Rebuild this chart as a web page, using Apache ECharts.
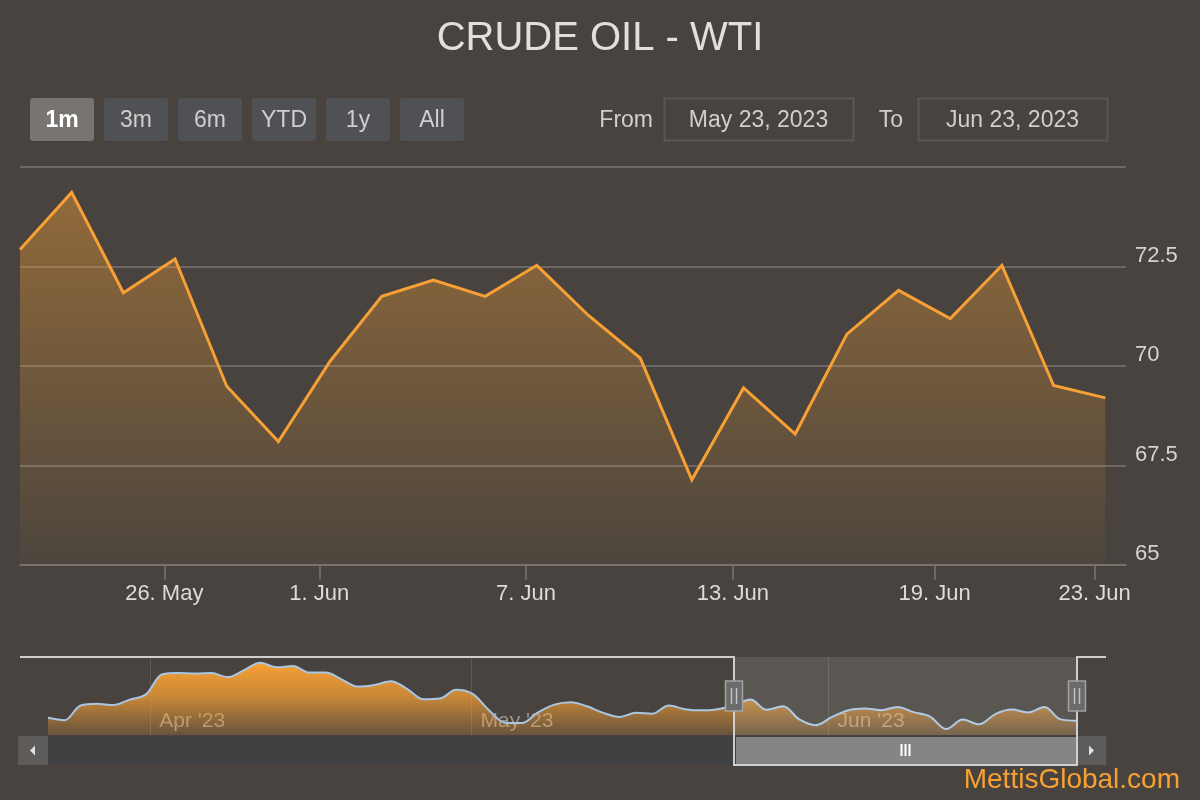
<!DOCTYPE html>
<html><head><meta charset="utf-8">
<script src="https://cdn.jsdelivr.net/npm/echarts@6/dist/echarts.min.js"></script>
<style>html,body{margin:0;padding:0;background:#48433e;} #c{width:1200px;height:800px;}</style>
</head><body><div id="c"></div>
<script>
// ---------- DATA ----------
const allDates = [
 '2023-03-23','2023-03-24','2023-03-27','2023-03-28','2023-03-29','2023-03-30','2023-03-31',
 '2023-04-03','2023-04-04','2023-04-05','2023-04-06','2023-04-10','2023-04-11','2023-04-12','2023-04-13','2023-04-14',
 '2023-04-17','2023-04-18','2023-04-19','2023-04-20','2023-04-21','2023-04-24','2023-04-25','2023-04-26','2023-04-27','2023-04-28',
 '2023-05-01','2023-05-02','2023-05-03','2023-05-04','2023-05-05','2023-05-08','2023-05-09','2023-05-10','2023-05-11','2023-05-12',
 '2023-05-15','2023-05-16','2023-05-17','2023-05-18','2023-05-19','2023-05-22',
 '2023-05-23','2023-05-24','2023-05-25','2023-05-26','2023-05-30','2023-05-31',
 '2023-06-01','2023-06-02','2023-06-05','2023-06-06','2023-06-07','2023-06-08','2023-06-09',
 '2023-06-12','2023-06-13','2023-06-14','2023-06-15','2023-06-16','2023-06-20','2023-06-21','2023-06-22','2023-06-23'
];
const allPrices = [
 69.9, 69.3, 72.9, 73.3, 73.0, 74.3, 75.6,
 80.5, 80.8, 80.7, 80.8, 79.8, 81.5, 83.3, 82.2, 82.5,
 80.9, 80.9, 79.2, 77.5, 77.9, 78.8, 76.9, 74.4, 74.6, 76.7,
 75.7, 71.7, 68.7, 68.6, 71.2, 73.1, 73.7, 72.7, 71.1, 70.1,
 71.1, 70.9, 72.9, 72.0, 71.7, 72.0,
 72.93, 74.36, 71.84, 72.69, 69.49, 68.10,
 70.12, 71.75, 72.16, 71.75, 72.53, 71.27, 70.20,
 67.14, 69.45, 68.29, 70.80, 71.90, 71.19, 72.53, 69.51, 69.20
];
const windowSize = 22; // "1m" view
const rangeButtons = ['1m','3m','6m','YTD','1y','All'];
const selectedButton = '1m';
const mainTickDates = ['2023-05-26','2023-06-01','2023-06-07','2023-06-13','2023-06-19','2023-06-23'];
const mainTickLabels = ['26. May','1. Jun','7. Jun','13. Jun','19. Jun','23. Jun'];
const navTickDates = ['2023-04-01','2023-05-01','2023-06-01'];
const navTickLabels = ["Apr '23","May '23","Jun '23"];
const yTicks = [65, 67.5, 70, 72.5, 75];
const tzOffsetHours = 5;

// ---------- helpers ----------
const FONT = "'Liberation Sans', Arial, Helvetica, sans-serif";
const MONTHS = ['Jan','Feb','Mar','Apr','May','Jun','Jul','Aug','Sep','Oct','Nov','Dec'];
function utc(s){const [y,m,d]=s.split('-').map(Number);return Date.UTC(y,m-1,d);}
function fmtDate(s){const [y,m,d]=s.split('-').map(Number);return MONTHS[m-1]+' '+d+', '+y;}
function ordinalPos(tickStr, dates){
  const t = utc(tickStr) - tzOffsetHours*3600e3;
  const ts = dates.map(utc);
  for (let i=0;i<ts.length-1;i++){ if (t>=ts[i] && t<ts[i+1]) return i + (t-ts[i])/(ts[i+1]-ts[i]); }
  return ts.length-1;
}
function labelFor(positions, labels){
  return function(v){ for (let i=0;i<positions.length;i++){ if (Math.abs(positions[i]-v)<1e-6) return labels[i]; } return ''; };
}

const startIdx = allDates.length - windowSize;
const mainDates = allDates.slice(startIdx);
const mainPrices = allPrices.slice(startIdx);
const mainTickPos = mainTickDates.map(d=>ordinalPos(d, mainDates));
const navTickPos = navTickDates.map(d=>ordinalPos(d, allDates));

// layout
const NAV_TOP = 657, NAV_H = 78, NAV_LEFT = 48, NAV_W = 1029;
const SCROLL_TOP = 736, SCROLL_H = 29;

const chart = echarts.init(document.getElementById('c'), null, {renderer:'canvas'});
const option = {
  backgroundColor: '#48433e',
  animation: false,
  title: {
    text: 'CRUDE OIL - WTI', left: 'center', top: 14,
    textStyle: {color:'#e0e0e0', fontSize: 40, fontWeight:'normal', fontFamily: FONT}
  },
  grid: [
    {left: 20, top: 167, width: 1106, height: 398},
    {left: NAV_LEFT, top: NAV_TOP, width: NAV_W, height: NAV_H}
  ],
  xAxis: [
    {
      type:'value', gridIndex:0, min:0, max:21.4,
      axisLine:{show:true, lineStyle:{color:'#7a7570', width:1.5}},
      axisTick:{show:true, length:15, customValues: mainTickPos, lineStyle:{color:'#7a7570', width:1.5}},
      axisLabel:{show:true, customValues: mainTickPos, formatter: labelFor(mainTickPos, mainTickLabels),
        color:'#dcdcdc', fontSize:22, fontFamily:FONT, margin:18},
      splitLine:{show:false}
    },
    {
      type:'value', gridIndex:1, min:0, max:allDates.length-1,
      axisLine:{show:false},
      axisTick:{show:true, inside:true, length:NAV_H, customValues: navTickPos, lineStyle:{color:'#5f5a55', width:1}},
      axisLabel:{show:true, inside:true, customValues: navTickPos, formatter: labelFor(navTickPos, navTickLabels),
        color:'#9d9791', fontSize:21, fontFamily:FONT, align:'left', verticalAlign:'middle', margin:14, padding:[0,0,0,9]},
      splitLine:{show:false}
    }
  ],
  yAxis: [
    {
      type:'value', gridIndex:0, position:'right', min:65, max:75, interval:2.5,
      axisLine:{show:false}, axisTick:{show:false},
      axisLabel:{color:'#d4d4d4', fontSize:22, fontFamily:FONT, margin:9, align:'left', verticalAlign:'bottom',
        formatter: v => (v===yTicks[yTicks.length-1] ? '' : String(v))},
      splitLine:{show:true, lineStyle:{color:'#7a7570', width:1.5}}
    },
    {
      type:'value', gridIndex:1, min:65.7, max:84.7, show:false, splitLine:{show:false}
    }
  ],
  series: [
    {
      type:'line', xAxisIndex:0, yAxisIndex:0,
      data: mainPrices.map((v,i)=>[i,v]),
      showSymbol:false, symbol:'none',
      lineStyle:{color:'#f7a035', width:3, join:'miter'},
      areaStyle:{origin:'start', color: new echarts.graphic.LinearGradient(0,0,0,1,[
        {offset:0, color:'rgba(247,160,53,0.6)'},
        {offset:1, color:'rgba(247,160,53,0.04)'}
      ])},
      z: 3
    },
    {
      type:'line', xAxisIndex:1, yAxisIndex:1,
      data: allPrices.map((v,i)=>[i,v]),
      showSymbol:false, symbol:'none', smooth:0.35,
      lineStyle:{color:'#a9c6e3', width:2},
      areaStyle:{origin:'start', opacity:1, color: new echarts.graphic.LinearGradient(0,0,0,1,[
        {offset:0, color:'rgba(247,160,53,1)'},
        {offset:0.45, color:'rgba(247,160,53,0.75)'},
        {offset:1, color:'rgba(247,160,53,0.18)'}
      ])},
      z: 2
    }
  ]
};
chart.setOption(option);

// ---------- UI overlay (range selector, navigator mask, scrollbar) ----------
const g = [];
const btnX0 = 30, btnStep = 74, btnW = 64, btnY = 98, btnH = 43;
rangeButtons.forEach((b,i)=>{
  const sel = b===selectedButton;
  const x = btnX0 + i*btnStep;
  g.push({type:'rect', shape:{x:x, y:btnY, width:btnW, height:btnH, r:3},
    style:{fill: sel ? '#777471' : '#505154'}, silent:true});
  g.push({type:'text', style:{x:x+btnW/2, y:btnY+btnH/2+1, text:b, fill: sel ? '#ffffff' : '#cfcfcf',
    font:(sel?'bold ':'')+'23px '+FONT, textAlign:'center', textVerticalAlign:'middle', align:'center', verticalAlign:'middle'}});
});
function inputBox(labelText, labelRight, boxX, value){
  g.push({type:'text', style:{x:labelRight, y:btnY+btnH/2+1, text:labelText, fill:'#cfcfcf', font:'23px '+FONT,
    textAlign:'right', textVerticalAlign:'middle', align:'right', verticalAlign:'middle'}});
  g.push({type:'rect', shape:{x:boxX+0.5, y:btnY+0.5, width:189, height:btnH-1},
    style:{fill:'rgba(0,0,0,0)', stroke:'#5c5752', lineWidth:2}});
  g.push({type:'text', style:{x:boxX+94.5, y:btnY+btnH/2+1, text:value, fill:'#cfcfcf', font:'23px '+FONT,
    textAlign:'center', textVerticalAlign:'middle', align:'center', verticalAlign:'middle'}});
}
inputBox('From', 653, 664, fmtDate(mainDates[0]));
inputBox('To', 903, 918, fmtDate(mainDates[mainDates.length-1]));

const selL = Math.round(chart.convertToPixel({xAxisIndex:1}, startIdx));
const selR = Math.round(chart.convertToPixel({xAxisIndex:1}, allDates.length-1));
const outlineL = 20, outlineR = 1106;

// scrollbar track and buttons
g.push({type:'rect', shape:{x:NAV_LEFT, y:SCROLL_TOP, width:NAV_W, height:SCROLL_H}, style:{fill:'#404042'}});
g.push({type:'rect', shape:{x:18, y:SCROLL_TOP, width:NAV_LEFT-18, height:SCROLL_H}, style:{fill:'#5e5c5a'}});
g.push({type:'rect', shape:{x:NAV_LEFT+NAV_W, y:SCROLL_TOP, width:outlineR-(NAV_LEFT+NAV_W), height:SCROLL_H}, style:{fill:'#5e5c5a'}});
g.push({type:'polygon', shape:{points:[[30,SCROLL_TOP+14.5],[35,SCROLL_TOP+9.5],[35,SCROLL_TOP+19.5]]}, style:{fill:'#e0e0e0'}});
g.push({type:'polygon', shape:{points:[[1094,SCROLL_TOP+14.5],[1089,SCROLL_TOP+9.5],[1089,SCROLL_TOP+19.5]]}, style:{fill:'#e0e0e0'}});
// thumb
g.push({type:'rect', shape:{x:selL+2, y:SCROLL_TOP+1, width:selR-selL-3, height:SCROLL_H-2}, style:{fill:'#858585'}});
const gripC = (selL+selR)/2;
[-4,0,4].forEach(dx=>g.push({type:'line', shape:{x1:gripC+dx, y1:SCROLL_TOP+8, x2:gripC+dx, y2:SCROLL_TOP+20}, style:{stroke:'#ffffff', lineWidth:2}}));
// navigator mask over selected range
g.push({type:'rect', z:10, shape:{x:selL, y:NAV_TOP, width:selR-selL, height:NAV_H}, style:{fill:'rgba(255,255,255,0.1)'}});
// outline
g.push({type:'polyline', z:11, shape:{points:[[outlineL,NAV_TOP],[selL,NAV_TOP],[selL,SCROLL_TOP+SCROLL_H],[selR,SCROLL_TOP+SCROLL_H],[selR,NAV_TOP],[outlineR,NAV_TOP]]},
  style:{stroke:'#cfcfcf', lineWidth:2, fill:null}});
// handles
[selL, selR].forEach(hx=>{
  g.push({type:'rect', z:12, shape:{x:hx-8.5, y:681, width:17, height:30}, style:{fill:'#6b6b6b', stroke:'#a3a3a3', lineWidth:1.5}});
  [-2.5,2.5].forEach(dx=>g.push({type:'line', z:13, shape:{x1:hx+dx, y1:688, x2:hx+dx, y2:704}, style:{stroke:'#c4c4c4', lineWidth:1.5}}));
});
// credit
g.push({type:'text', style:{x:1180, y:780, text:'MettisGlobal.com', fill:'#f7a035', font:'28px '+FONT,
  textAlign:'right', textVerticalAlign:'middle', align:'right', verticalAlign:'middle'}});

chart.setOption({graphic: g});
</script>
</body></html>
